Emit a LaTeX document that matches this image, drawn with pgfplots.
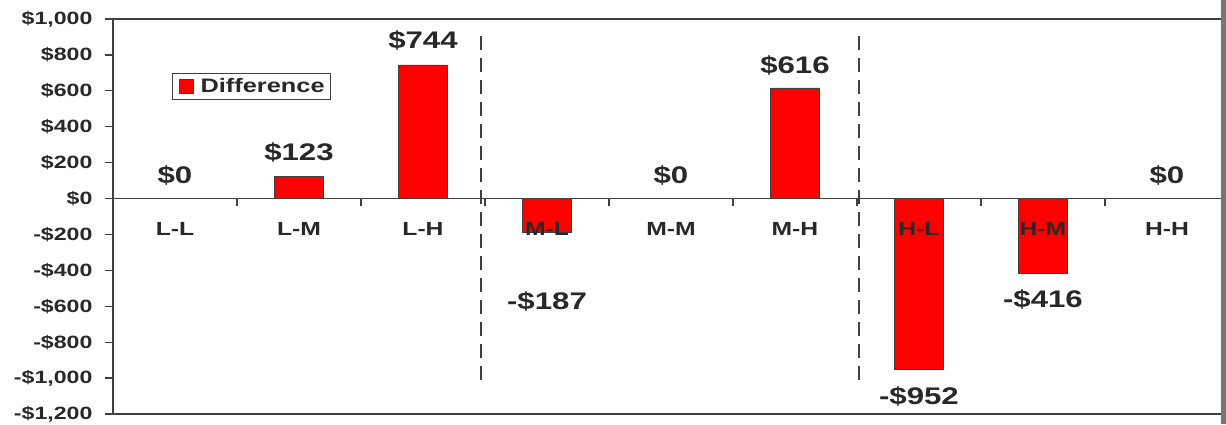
\documentclass[border=0pt]{standalone}
\usepackage{fontspec}
\setmainfont{Liberation Sans}[FakeStretch=1.3]
\usepackage{pgfplots}
\pgfplotsset{compat=1.18}
\definecolor{txt}{RGB}{40,40,40}
\definecolor{axc}{RGB}{64,64,64}
\definecolor{barred}{RGB}{255,0,0}
\begin{document}
\begin{tikzpicture}
\clip (-113pt,-10pt) rectangle (1113pt,414pt);
\begin{axis}[
  at={(0pt,0pt)}, anchor=south west,
  width=1116pt, height=395pt, scale only axis,
  xmin=-0.5, xmax=8.5, ymin=-1200, ymax=1000,
  clip=false, axis on top,
  axis x line=middle, axis y line=left,
  axis line style={-, draw=axc, line width=1.3pt},
  xtick={0,...,8},
  xticklabels={L-L,L-M,L-H,M-L,M-M,M-H,H-L,H-M,H-H},
  major x tick style={draw=none},
  minor xtick={0.5,1.5,...,7.5},
  minor x tick style={draw=axc, line width=1.2pt, yshift=-3.5pt},
  minor tick length=7pt,
  xticklabel style={font=\fontsize{19}{20}\selectfont\bfseries, text=txt, yshift=-16pt},
  ytick={-1200,-1000,...,1000},
  yticklabels={{-\$1,200},{-\$1,000},{-\$800},{-\$600},{-\$400},{-\$200},{\$0},{\$200},{\$400},{\$600},{\$800},{\$1,000}},
  ytick align=outside, ytick pos=left, major tick length=8pt,
  major y tick style={draw=axc, line width=1.2pt},
  yticklabel style={font=\fontsize{17.8}{19}\selectfont\bfseries, text=txt, xshift=-9pt},
  legend style={at={(axis description cs:0.0529,0.8633)}, anchor=north west,
    draw=axc, line width=1.2pt, font=\fontsize{19.5}{21}\selectfont\bfseries, text=txt,
    inner xsep=4pt, inner ysep=3pt, legend cell align=left},
]
\addplot[ybar, bar width=49pt, fill=barred, draw=axc, line width=0.8pt,
  legend image code/.code={\path[draw=none,fill=none] (0pt,0pt) -- (22pt,0pt);\draw[fill=barred, draw=axc, line width=0.8pt] (3pt,-7pt) rectangle (17pt,7pt);}]
  table {
x y
0 0
1 123
2 744
3 -187
4 0
5 616
6 -952
7 -416
8 0
};
\addlegendentry{Difference}
\addplot[forget plot, draw=none, mark=none, nodes near coords, point meta=explicit symbolic,
  every node near coord/.append style={anchor=center, font=\fontsize{24}{26}\selectfont\bfseries, text=txt}]
  table[meta=lab] {
x y lab
0 128 \$0
1 256 \$123
2 880 \$744
3 -574 -\$187
4 128 \$0
5 741 \$616
6 -1103 -\$952
7 -563 -\$416
8 128 \$0
};
\addplot[forget plot, draw=axc, line width=2pt, dash pattern=on 14pt off 8pt] coordinates {(2.47,905) (2.47,-1020)};
\addplot[forget plot, draw=axc, line width=2pt, dash pattern=on 14pt off 8pt] coordinates {(5.52,905) (5.52,-1020)};
\draw[axc, line width=1.1pt] (rel axis cs:0,0) rectangle (rel axis cs:1,1);
\end{axis}
\fill[color={rgb,255:red,125;green,115;blue,110}] (1108pt,-10pt) rectangle (1113pt,414pt);
\end{tikzpicture}
\end{document}
